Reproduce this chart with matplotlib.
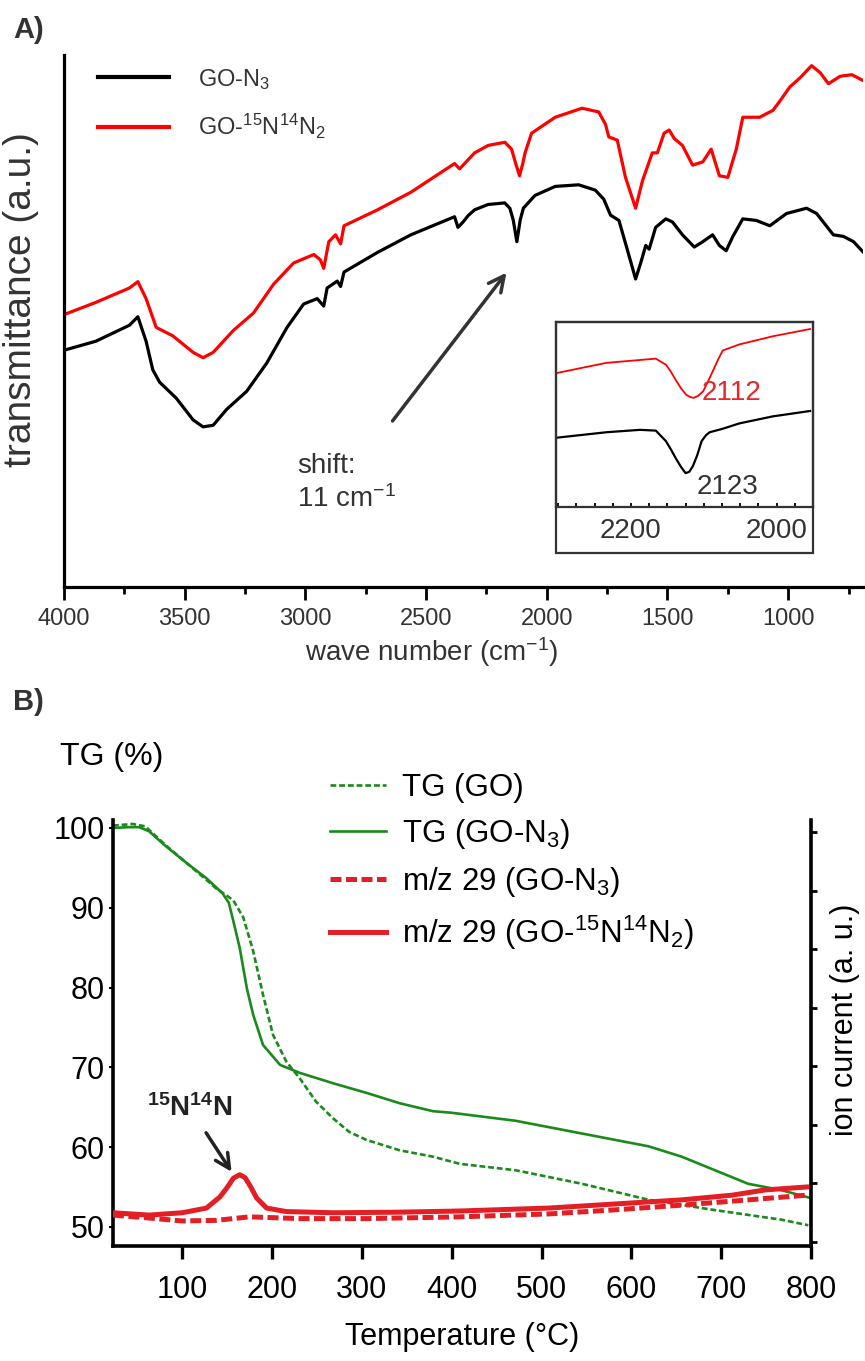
import matplotlib
matplotlib.use('Agg')
import matplotlib.pyplot as plt
from matplotlib.patches import Rectangle
from matplotlib.ticker import MultipleLocator, FixedLocator

plt.rcParams['font.family'] = ['Liberation Sans', 'DejaVu Sans']
plt.rcParams['mathtext.fontset'] = 'custom'
plt.rcParams['mathtext.rm'] = 'Liberation Sans'
plt.rcParams['mathtext.it'] = 'Liberation Sans:italic'
plt.rcParams['mathtext.bf'] = 'Liberation Sans:bold'

# ---------------- Panel A: IR spectra ----------------
ir_wn_black = [4000, 3868, 3729, 3694, 3660, 3632, 3604, 3535, 3465, 3424, 3382, 3326, 3243,
               3160, 3076, 3007, 2951, 2924, 2910, 2868, 2854, 2840, 2701, 2563, 2382, 2368,
               2347, 2326, 2299, 2243, 2174, 2153, 2139, 2124, 2110, 2097, 2049, 1965, 1868,
               1799, 1764, 1736, 1701, 1667, 1632, 1611, 1590, 1576, 1549, 1507, 1479, 1438,
               1389, 1354, 1313, 1285, 1257, 1229, 1188, 1132, 1076, 1007, 924, 882, 813,
               771, 729, 688]
ir_black = [44.5, 46.2, 49.2, 50.8, 46.2, 40.8, 38.5, 35.5, 31.4, 30.1, 30.4, 33.4, 36.8,
            42.1, 48.8, 53.2, 54.2, 52.8, 56.2, 57.5, 56.5, 59.2, 62.9, 66.2, 69.6, 67.6,
            68.6, 69.8, 70.9, 71.9, 72.2, 71.2, 69.0, 64.9, 69.0, 71.2, 73.6, 75.3, 75.6,
            74.6, 72.9, 69.9, 68.9, 63.5, 57.9, 60.9, 64.2, 63.5, 67.6, 69.2, 68.6, 66.2,
            63.9, 64.9, 66.2, 64.2, 63.2, 65.9, 69.2, 68.9, 67.9, 70.2, 71.2, 70.2, 66.2,
            65.9, 64.9, 62.9]

ir_wn_red = [4000, 3868, 3729, 3694, 3660, 3618, 3549, 3465, 3424, 3382, 3299, 3215, 3132,
             3049, 2965, 2938, 2924, 2903, 2875, 2854, 2840, 2701, 2563, 2382, 2361, 2326,
             2299, 2243, 2174, 2146, 2128, 2113, 2100, 2090, 2063, 1965, 1854, 1785, 1757,
             1743, 1708, 1674, 1632, 1604, 1563, 1542, 1514, 1493, 1472, 1438, 1396, 1354,
             1319, 1285, 1250, 1215, 1188, 1118, 1063, 1035, 993, 951, 903, 868, 833, 785,
             736, 694]
ir_red = [51.2, 53.5, 56.2, 57.4, 54.2, 48.8, 47.2, 44.1, 43.1, 44.1, 48.2, 51.5, 56.9,
          60.9, 62.5, 61.5, 59.9, 64.9, 66.2, 64.5, 67.9, 70.9, 74.2, 79.6, 78.6, 80.3,
          81.6, 83.0, 83.6, 82.3, 79.5, 77.3, 79.5, 81.6, 85.3, 88.3, 90.0, 89.3, 87.0,
          84.6, 84.0, 77.0, 71.2, 76.3, 81.6, 81.6, 85.3, 85.9, 84.3, 83.0, 79.3, 79.9,
          82.3, 77.3, 77.0, 82.3, 88.3, 88.3, 89.6, 91.3, 94.0, 95.7, 98.0, 96.7, 94.6,
          96.0, 96.3, 95.3]

# inset (zoom on azide band)
inset_wn = [2301, 2234, 2166, 2152, 2145, 2138, 2131, 2124, 2119, 2114, 2108, 2101, 2094,
            2087, 2080, 2074, 2051, 2005, 1954]
inset_red = [72.5, 77.9, 80.2, 76.9, 73.0, 68.3, 64.0, 60.6, 59.5, 59.0, 60.0, 62.5, 68.0,
             74.0, 80.0, 84.6, 87.9, 92.3, 96.2]
inset_wn_black = [2301, 2234, 2188, 2166, 2152, 2145, 2138, 2131, 2125, 2120, 2115, 2109,
                  2103, 2097, 2092, 2074, 2051, 2005, 1954]
inset_black = [37.5, 40.4, 41.7, 41.3, 35.6, 31.0, 26.0, 21.5, 18.3, 19.0, 22.1, 28.0,
               35.6, 38.8, 40.4, 42.3, 45.2, 49.0, 51.9]

ir_xticks = [4000, 3500, 3000, 2500, 2000, 1500, 1000]
inset_xticks = [2200, 2000]

# ---------------- Panel B: TG / MS ----------------
tg_temp_go = [23, 45, 59, 82, 105, 127, 138, 150, 157, 168, 179, 190, 201, 216, 231, 249,
              268, 286, 305, 342, 379, 409, 471, 545, 619, 693, 767, 797]
tg_go = [100.3, 100.5, 100.2, 97.8, 95.6, 93.5, 92.4, 91.5, 90.9, 88.8, 84.6, 79.1, 74.1,
         70.7, 68.6, 65.7, 63.6, 61.9, 60.9, 59.6, 58.8, 57.9, 57.1, 55.4, 53.4, 52.1,
         50.9, 50.2]

tg_temp_n3 = [23, 40, 52, 63, 82, 105, 127, 145, 152, 157, 164, 172, 179, 190, 209, 231,
              268, 305, 342, 379, 400, 471, 545, 619, 656, 693, 730, 767, 800]
tg_n3 = [100.0, 100.1, 100.1, 99.6, 97.7, 95.6, 93.7, 91.8, 90.6, 88.3, 85.0, 79.9, 76.6,
         72.8, 70.3, 69.3, 68.0, 66.8, 65.5, 64.5, 64.3, 63.3, 61.7, 60.1, 58.8, 57.1,
         55.4, 54.6, 53.6]

ms_temp_15 = [23, 63, 100, 127, 142, 150, 157, 164, 170, 176, 183, 194, 216, 268, 342, 409,
              508, 582, 656, 712, 749, 795]
ms_15 = [0.50, 0.46, 0.50, 0.58, 0.77, 0.93, 1.09, 1.15, 1.10, 0.95, 0.75, 0.58, 0.52, 0.50,
         0.51, 0.53, 0.58, 0.65, 0.72, 0.80, 0.89, 0.94]

ms_temp_n3 = [23, 63, 100, 138, 175, 231, 305, 409, 508, 582, 656, 730, 795]
ms_n3 = [0.46, 0.41, 0.36, 0.37, 0.43, 0.40, 0.40, 0.43, 0.48, 0.55, 0.63, 0.72, 0.80]

tg_yticks = [50, 60, 70, 80, 90, 100]
temp_xticks = [100, 200, 300, 400, 500, 600, 700, 800]
ion_ticks = [0, 1, 2, 3, 4, 5, 6, 7]

# ---------------- figure ----------------
W, H = 865, 1361


def box(l, t, r, b):
    return [l / W, 1 - b / H, (r - l) / W, (b - t) / H]


fig = plt.figure(figsize=(W / 100, H / 100), dpi=100)
GRAY = '#333333'

# ---- Panel A
ax1 = fig.add_axes(box(64, 55, 863, 587))
ax1.plot(ir_wn_black, ir_black, color='black', lw=2.3, label=r'GO-N$\mathregular{_3}$')
ax1.plot(ir_wn_red, ir_red, color='#ff0000', lw=2.3,
         label=r'GO-$\mathregular{^{15}}$N$\mathregular{^{14}}$N$\mathregular{_2}$')
ax1.set_xlim(4000, 690)
ax1.set_ylim(0, 100)
ax1.spines[['top', 'right']].set_visible(False)
for s in ['left', 'bottom']:
    ax1.spines[s].set_linewidth(2.3)
ax1.set_yticks([])
ax1.xaxis.set_major_locator(FixedLocator(ir_xticks))
ax1.xaxis.set_minor_locator(MultipleLocator(250))
ax1.tick_params(axis='x', which='major', direction='out', length=9, width=2.0,
                labelsize=17, labelcolor=GRAY, pad=6)
ax1.tick_params(axis='x', which='minor', direction='out', length=5, width=2.0)
leg1 = ax1.legend(loc='upper left', bbox_to_anchor=(0.0425, 0.978), frameon=False,
                  fontsize=17, handlelength=3.0, handletextpad=1.25, labelspacing=0.85,
                  borderpad=0, borderaxespad=0)
for t in leg1.get_texts():
    t.set_color(GRAY)
for h in leg1.get_lines():
    h.set_linewidth(3.0)

ax1.annotate('', xy=(2160, 59.5), xytext=(2646, 30.8),
             arrowprops=dict(arrowstyle='->', lw=2.5, color=GRAY, mutation_scale=28))
ax1.text(3035, 22.8, 'shift:', fontsize=20, color=GRAY, va='center', ha='left')
ax1.text(3035, 16.5, r'11 cm$\mathregular{^{-1}}$', fontsize=20, color=GRAY,
         va='center', ha='left')

fig.text(432 / W, 1 - 652 / H, r'wave number (cm$\mathregular{^{-1}}$)', fontsize=20,
         color=GRAY, ha='center', va='center')
fig.text(21 / W, 1 - 300 / H, 'transmittance (a.u.)', fontsize=28, color=GRAY,
         ha='center', va='center', rotation=90)
fig.text(13 / W, 1 - 30 / H, 'A)', fontsize=21, fontweight='bold', color=GRAY,
         ha='left', va='center')
fig.text(13 / W, 1 - 702 / H, 'B)', fontsize=21, fontweight='bold', color=GRAY,
         ha='left', va='center')

# ---- inset
axi = fig.add_axes(box(556, 322, 813, 507))
axi.plot(inset_wn, inset_red, color='#ff0000', lw=1.3)
axi.plot(inset_wn_black, inset_black, color='black', lw=1.6)
axi.set_xlim(2303, 1950)
axi.set_ylim(0, 100)
axi.set_yticks([])
axi.xaxis.set_major_locator(FixedLocator(inset_xticks))
axi.xaxis.set_minor_locator(MultipleLocator(25))
axi.tick_params(axis='x', which='both', direction='in', length=3, width=1.3,
                labelsize=20, labelcolor=GRAY, pad=8)
for s in axi.spines.values():
    s.set_linewidth(1.6)
    s.set_color(GRAY)
axi.text(2062, 61.5, '2112', color='#e8262a', fontsize=20, ha='center', va='center')
axi.text(2068, 11.0, '2123', color=GRAY, fontsize=20, ha='center', va='center')
fig.patches.append(Rectangle((556 / W, 1 - 553 / H), (813 - 556) / W, (553 - 322) / H,
                             transform=fig.transFigure, fill=False, lw=1.6, ec=GRAY))

# ---- Panel B
GREEN = '#1a8a1a'
RED = '#e31e24'
ax2 = fig.add_axes(box(113, 820, 811, 1246))
l1, = ax2.plot(tg_temp_go, tg_go, color=GREEN, lw=1.9, dashes=(2.2, 1.1), label='TG (GO)')
l2, = ax2.plot(tg_temp_n3, tg_n3, color=GREEN, lw=1.9, label=r'TG (GO-N$\mathregular{_3}$)')
ax2.set_xlim(23, 800)
ax2.set_ylim(47.6, 101.0)
ax2.spines[['top', 'right']].set_visible(False)
for s in ['left', 'bottom']:
    ax2.spines[s].set_linewidth(2.6)
ax2.set_yticks(tg_yticks)
ax2.set_xticks(temp_xticks)
ax2.tick_params(axis='x', direction='out', length=9, width=2.4, labelsize=22, pad=12)
ax2.tick_params(axis='y', direction='out', length=3, width=1.5, labelsize=22, pad=3)

ax3 = ax2.twinx()
l3, = ax3.plot(ms_temp_n3, ms_n3, color=RED, lw=3.6, dashes=(2.2, 0.9),
               label=r'm/z 29 (GO-N$\mathregular{_3}$)')
l4, = ax3.plot(ms_temp_15, ms_15, color=RED, lw=3.6,
               label=r'm/z 29 (GO-$\mathregular{^{15}}$N$\mathregular{^{14}}$N$\mathregular{_2}$)')
ax3.set_ylim(-0.068, 7.21)
ax3.set_yticks(ion_ticks)
ax3.set_yticklabels([])
ax3.spines[['top', 'left', 'bottom']].set_visible(False)
ax3.spines['right'].set_linewidth(2.6)
ax3.tick_params(axis='y', direction='out', length=4, width=2.0)

leg2 = ax2.legend(handles=[l1, l2, l3, l4], loc='upper left', bbox_to_anchor=(0.311, 1.11),
                  frameon=False, fontsize=22.5, handlelength=1.8, handletextpad=0.5,
                  labelspacing=0.45, borderpad=0, borderaxespad=0)
leg2.set_zorder(10)

ax2.annotate(r'$\mathbf{^{15}}$N$\mathbf{^{14}}$N', xy=(155, 56.9), xytext=(108.6, 64.9),
             fontsize=20, fontweight='bold', color='#222222', ha='center', va='center',
             arrowprops=dict(arrowstyle='->', lw=2.5, color='#222222', mutation_scale=26,
                             shrinkA=7, shrinkB=0))

fig.text(60 / W, 1 - 757 / H, 'TG (%)', fontsize=23, ha='left', va='center')
fig.text(462 / W, 1 - 1337 / H, 'Temperature (°C)', fontsize=22, ha='center', va='center')
fig.text(845 / W, 1 - 1020 / H, 'ion current (a. u.)', fontsize=22, ha='center',
         va='center', rotation=90)

fig.savefig('out.png', dpi=100)
